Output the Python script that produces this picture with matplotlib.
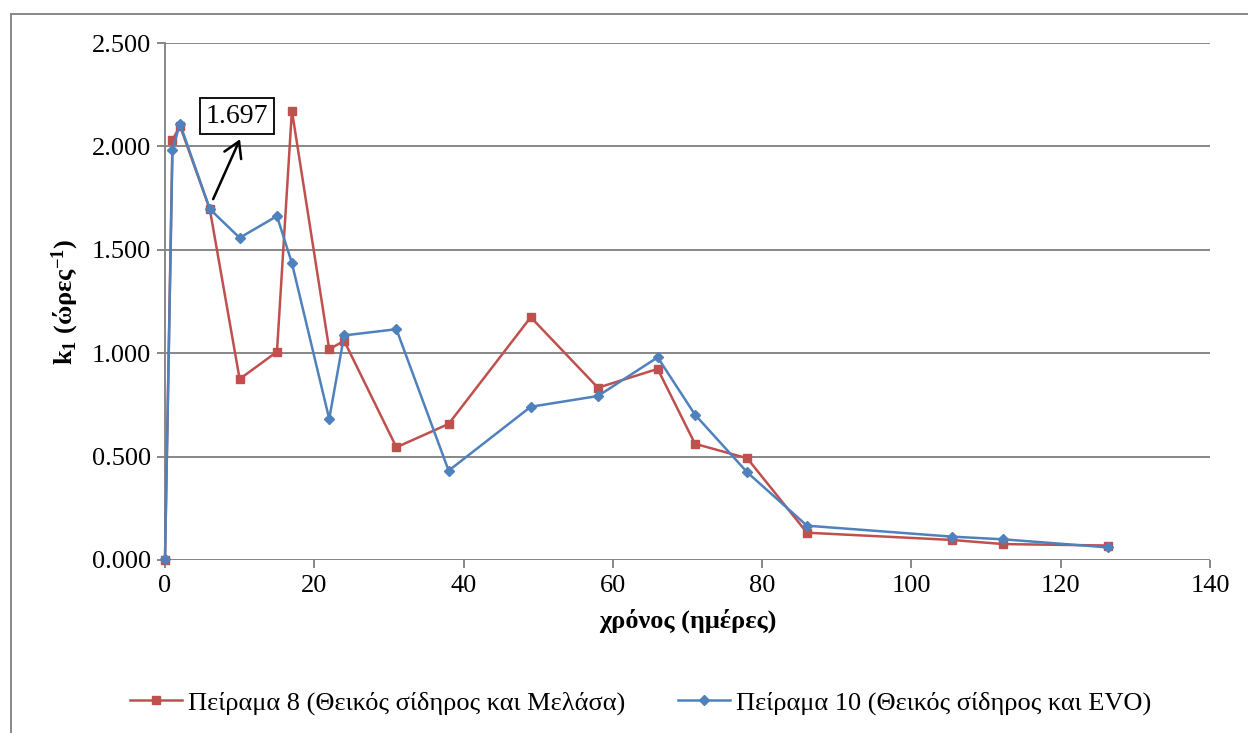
import matplotlib
matplotlib.use("Agg")
import matplotlib.pyplot as plt
from matplotlib.ticker import FormatStrFormatter, MultipleLocator
from matplotlib.lines import Line2D

# Experiment 8 (ferrous sulfate + molasses)
days_exp8 = [0, 1, 2, 6, 10, 15, 17, 22, 24, 31, 38, 49, 58, 66, 71, 78, 86, 105.4, 112.3, 126.3]
k1_exp8 = [0.0, 2.03, 2.10, 1.697, 0.875, 1.007, 2.173, 1.019, 1.06, 0.545, 0.658,
           1.174, 0.833, 0.924, 0.562, 0.492, 0.132, 0.097, 0.077, 0.070]

# Experiment 10 (ferrous sulfate + EVO)
days_exp10 = [0, 1, 2, 6, 10, 15, 17, 22, 24, 31, 38, 49, 58, 66, 71, 78, 86, 105.4, 112.3, 126.3]
k1_exp10 = [0.005, 1.983, 2.11, 1.697, 1.558, 1.663, 1.436, 0.682, 1.086, 1.116, 0.432,
            0.741, 0.793, 0.980, 0.703, 0.424, 0.166, 0.113, 0.100, 0.061]

label_exp8 = "Πείραμα 8 (Θεικός σίδηρος και Μελάσα)"
label_exp10 = "Πείραμα 10 (Θεικός σίδηρος και EVO)"
callout_value = 1.697

RED = "#C0504D"
BLUE = "#4F81BD"
GRID = "#878787"

plt.rcParams["font.family"] = ["Liberation Serif", "DejaVu Serif"]
plt.rcParams["mathtext.fontset"] = "custom"
plt.rcParams["mathtext.rm"] = "Liberation Serif"
plt.rcParams["mathtext.bf"] = "Liberation Serif:bold"

W, H = 1248, 733
fig = plt.figure(figsize=(W / 100, H / 100), dpi=100)
ax = fig.add_axes([165 / W, 1 - 560 / H, (1210 - 165) / W, (560 - 43) / H])

ax.plot(days_exp8, k1_exp8, color=RED, lw=1.8, marker="s", ms=6,
        label=label_exp8, clip_on=False, zorder=3)
ax.plot(days_exp10, k1_exp10, color=BLUE, lw=1.8, marker="D", ms=5.5,
        label=label_exp10, clip_on=False, zorder=4)

ax.set_xlim(0, 140)
ax.set_ylim(0, 2.5)
ax.xaxis.set_major_locator(MultipleLocator(20))
ax.yaxis.set_major_locator(MultipleLocator(0.5))
ax.yaxis.set_major_formatter(FormatStrFormatter("%.3f"))

ax.grid(axis="y", color=GRID, lw=1.4)
ax.set_axisbelow(True)
for side in ("top", "right", "bottom"):
    ax.spines[side].set_visible(False)
ax.spines["left"].set_color(GRID)
ax.spines["left"].set_linewidth(1.4)
ax.axhline(0, color=GRID, lw=1.4, zorder=1)

ax.tick_params(axis="both", direction="out", length=6, width=1.4, color=GRID,
               labelsize=19, labelcolor="black")
ax.tick_params(axis="y", pad=4)
ax.tick_params(axis="x", pad=5)

ax.set_xlabel("χρόνος (ημέρες)", fontsize=19, fontweight="bold", labelpad=8)
ax.set_ylabel(r"$\mathbf{k_1}$ (ώρες$\mathbf{^{-1}}$)", fontsize=19, fontweight="bold", labelpad=8)

# Callout for the shared value at day 6
ax.text(9.65, 2.147, f"{callout_value:.3f}", fontsize=20, ha="center", va="center",
        bbox=dict(boxstyle="square,pad=0.2", fc="white", ec="black", lw=1.3), zorder=6)
ax.annotate("", xy=(10.05, 2.035), xytext=(6.45, 1.745),
            arrowprops=dict(arrowstyle="->,head_length=0.5,head_width=0.3",
                            mutation_scale=22, color="black", lw=1.8,
                            shrinkA=0, shrinkB=0),
            zorder=6)

fig.legend(loc="center", bbox_to_anchor=(0.513, 1 - 703 / H), ncol=2, frameon=False,
           fontsize=19, handlelength=2.0, columnspacing=2.0, handletextpad=0.2)

# Chart area frame
fig.add_artist(Line2D([11 / W, 1.0], [1 - 14 / H, 1 - 14 / H], color=GRID, lw=1.4))
fig.add_artist(Line2D([11 / W, 11 / W], [1 - 14 / H, 0.0], color=GRID, lw=1.4))

fig.savefig("out.png", dpi=100, facecolor="white")
